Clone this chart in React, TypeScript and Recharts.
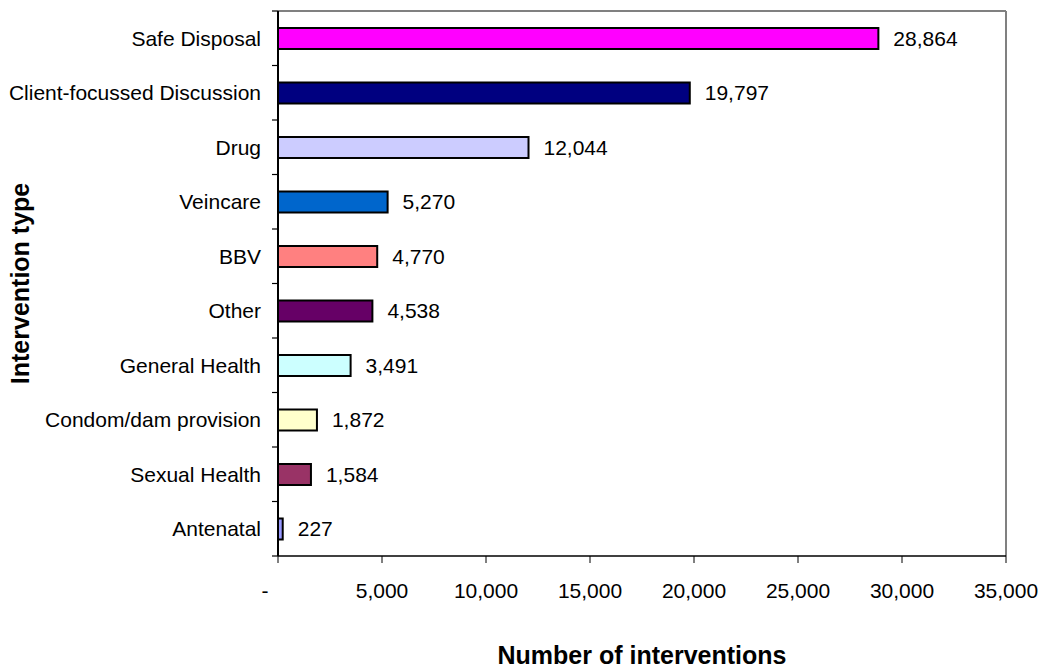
import React from 'react';
import { BarChart, Bar, XAxis, YAxis, Cell, LabelList, ReferenceLine } from 'recharts';

const categories = [
  'Safe Disposal',
  'Client-focussed Discussion',
  'Drug',
  'Veincare',
  'BBV',
  'Other',
  'General Health',
  'Condom/dam provision',
  'Sexual Health',
  'Antenatal',
];
const interventions = [28864, 19797, 12044, 5270, 4770, 4538, 3491, 1872, 1584, 227];
const barColors = [
  '#FF00FF', '#000080', '#CCCCFF', '#0066CC', '#FF8080',
  '#660066', '#CCFFFF', '#FFFFCC', '#993366', '#9999FF',
];
const xTicks = [0, 5000, 10000, 15000, 20000, 25000, 30000, 35000];
const xMax = 35000;

const data = categories.map((name, i) => ({ name, value: interventions[i] }));

const FONT = '"Liberation Sans", Arial, sans-serif';
const fmt = (v: number) => v.toLocaleString('en-US');
const TICK_MARGIN = 17;

const XTick = (props: any) => {
  const { x, y, payload } = props;
  const v = payload.value as number;
  return (
    <text x={v === 0 ? x - 13 : x} y={y + 35} textAnchor="middle" fontSize={21} fontFamily={FONT} fill="#000">
      {v === 0 ? '-' : fmt(v)}
    </text>
  );
};

const CatTick = (props: any) => {
  const { x, y, payload, index } = props;
  const half = payload && payload.offset ? payload.offset : 27.25;
  const ax = x + TICK_MARGIN;
  const last = index === categories.length - 1;
  return (
    <g>
      <line x1={ax - 6} x2={ax} y1={y - half} y2={y - half} stroke="#000" strokeWidth={1.2} />
      {last ? <line x1={ax - 6} x2={ax} y1={y + half} y2={y + half} stroke="#000" strokeWidth={1.2} /> : null}
      <text x={x} y={y} dy="0.36em" textAnchor="end" fontSize={21} fontFamily={FONT} fill="#000">
        {payload.value}
      </text>
    </g>
  );
};

const XTitle = (props: any) => {
  const vb = props.viewBox;
  return (
    <text x={vb.x + vb.width / 2} y={vb.y + 108} textAnchor="middle" fontSize={25} fontWeight="bold" fontFamily={FONT} fill="#000">
      Number of interventions
    </text>
  );
};

const YTitle = (props: any) => {
  const vb = props.viewBox;
  const cx = 29;
  const cy = vb.y + vb.height / 2;
  return (
    <text x={cx} y={cy} textAnchor="middle" transform={`rotate(-90 ${cx} ${cy})`} fontSize={25} fontWeight="bold" fontFamily={FONT} fill="#000">
      Intervention type
    </text>
  );
};

export default function App() {
  return (
    <div style={{ position: 'absolute', left: 0, top: 0, width: 1049, height: 668, background: '#fff' }}>
      <BarChart
        width={1049}
        height={668}
        data={data}
        layout="vertical"
        margin={{ top: 11, right: 43, bottom: 0, left: 0 }}
        barCategoryGap={0}
      >
        <XAxis
          xAxisId="bottom"
          type="number"
          domain={[0, xMax]}
          ticks={xTicks}
          interval={0}
          height={112}
          tickSize={7}
          tickMargin={0}
          tick={<XTick />}
          axisLine={{ stroke: '#000', strokeWidth: 1.5 }}
          tickLine={{ stroke: '#000' }}
          label={<XTitle />}
        />
        <YAxis
          yAxisId="cat"
          type="category"
          dataKey="name"
          width={278}
          tickLine={false}
          axisLine={{ stroke: '#000', strokeWidth: 2 }}
          tickSize={0}
          tickMargin={TICK_MARGIN}
          interval={0}
          tick={<CatTick />}
          label={<YTitle />}
        />
        <ReferenceLine
          xAxisId="bottom"
          yAxisId="cat"
          y={categories[0]}
          position="start"
          stroke="#808080"
          strokeWidth={2}
        />
        <ReferenceLine
          xAxisId="bottom"
          yAxisId="cat"
          x={xMax}
          stroke="#808080"
          strokeWidth={2}
        />
        <Bar
          dataKey="value"
          xAxisId="bottom"
          yAxisId="cat"
          barSize={21}
          stroke="#000"
          strokeWidth={2}
          isAnimationActive={false}
        >
          {data.map((d, i) => (
            <Cell key={d.name} fill={barColors[i]} />
          ))}
          <LabelList
            dataKey="value"
            position="right"
            offset={15}
            formatter={(v: any) => fmt(Number(v))}
            style={{ fontSize: 21, fill: '#000', fontFamily: FONT, stroke: 'none' }}
          />
        </Bar>
      </BarChart>
    </div>
  );
}
